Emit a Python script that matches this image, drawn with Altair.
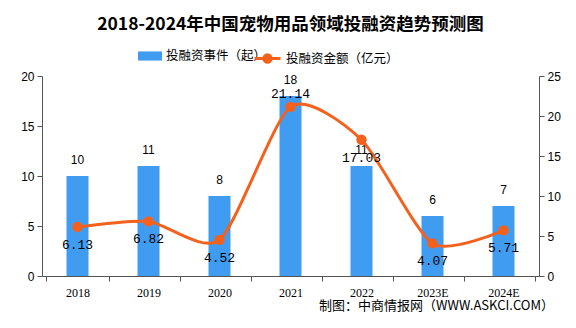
import altair as alt
import pandas as pd

years = ['2018', '2019', '2020', '2021', '2022', '2023E', '2024E']
events = [10, 11, 8, 18, 11, 6, 7]
amounts = [6.13, 6.82, 4.52, 21.14, 17.03, 4.07, 5.71]
amount_labels = ['6.13', '6.82', '4.52', '21.14', '17.03', '4.07', '5.71']
label_above = [False, False, False, True, False, False, False]

s1 = '投融资事件（起）'
s2 = '投融资金额（亿元）'

df = pd.DataFrame({
    'year': years, 'events': events, 'amount': amounts,
    'alabel': amount_labels, 'above': label_above,
    's1': [s1] * len(years), 's2': [s2] * len(years),
})

BLUE = '#409cf0'
ORANGE = '#f4611c'
CJK = 'Noto Sans CJK SC'

x = alt.X('year:N', sort=years, title=None,
          axis=alt.Axis(labelAngle=0, tickBand='extent', tickSize=5, labelPadding=6,
                        domainColor='#555', tickColor='#555', labelColor='#000',
                        labelFont='Liberation Serif', labelFontSize=12))

base = alt.Chart(df).encode(x=x)

bars = base.mark_bar(size=22).encode(
    y=alt.Y('events:Q', scale=alt.Scale(domain=[0, 20]), title=None,
            axis=alt.Axis(values=[0, 5, 10, 15, 20], grid=False, tickSize=5, labelPadding=3,
                          domainColor='#555', tickColor='#555', labelColor='#000',
                          labelFont='Liberation Sans', labelFontSize=12)),
    color=alt.Color('s1:N', scale=alt.Scale(domain=[s1], range=[BLUE]),
                    legend=alt.Legend(title=None, orient='none', legendX=96, legendY=-32,
                                      symbolType='M-1,-0.38H1V0.38H-1Z', symbolSize=576,
                                      symbolStrokeWidth=0, labelFont=CJK, labelFontSize=12.5,
                                      labelColor='#000')),
)

bar_text = base.mark_text(dy=-16, font='Liberation Sans', fontSize=12, color='#000').encode(
    y=alt.Y('events:Q', scale=alt.Scale(domain=[0, 20])),
    text='events:Q',
)

left = alt.layer(bars, bar_text)

y2 = alt.Y('amount:Q', scale=alt.Scale(domain=[0, 25]), title=None,
           axis=alt.Axis(orient='right', values=[0, 5, 10, 15, 20, 25], grid=False, tickSize=5,
                         labelPadding=3, domainColor='#555', tickColor='#555', labelColor='#000',
                         labelFont='Liberation Sans', labelFontSize=12))

line = base.mark_line(interpolate='cardinal', tension=0.3, strokeWidth=3,
                      point=alt.OverlayMarkDef(filled=True, size=70, color=ORANGE)).encode(
    y=y2,
    stroke=alt.Stroke('s2:N', scale=alt.Scale(domain=[s2], range=[ORANGE]),
                      legend=alt.Legend(title=None, orient='none', legendX=211, legendY=-32,
                                        symbolType='M-1,0H1M0.28,0A0.28,0.28 0 1 1 -0.28,0A0.28,0.28 0 1 1 0.28,0',
                                        symbolSize=676, symbolStrokeWidth=3, symbolFillColor=ORANGE,
                                        labelFont=CJK, labelFontSize=12.5, labelColor='#000')),
)

text_below = base.transform_filter('!datum.above').mark_text(
    dy=18, font='Liberation Mono', fontSize=13, color='#000').encode(
    y=y2, text='alabel:N')

text_above = base.transform_filter('datum.above').mark_text(
    dy=-13, font='Liberation Mono', fontSize=13, color='#000').encode(
    y=y2, text='alabel:N')

right = alt.layer(line, text_below, text_above)

source = alt.Chart(pd.DataFrame({'t': ['制图：中商情报网（WWW.ASKCI.COM）']})).mark_text(
    align='right', baseline='middle', font=CJK, fontSize=13, color='#000').encode(
    x=alt.value(512), y=alt.value(230), text='t:N')

chart = alt.layer(left, right, source).resolve_scale(
    y='independent', color='independent', stroke='independent'
).properties(
    width=497, height=200,
    autosize=alt.AutoSizeParams(type='none'),
    padding={'left': 42, 'top': 76, 'right': 37, 'bottom': 52},
    title=alt.TitleParams('2018-2024年中国宠物用品领域投融资趋势预测图', font=CJK, fontSize=17.5,
                          fontWeight='bold', color='#000', anchor='middle', offset=11),
    background='white',
).configure_view(stroke=None)

chart.save('out.html', embed_options={'renderer': 'svg', 'actions': False})
